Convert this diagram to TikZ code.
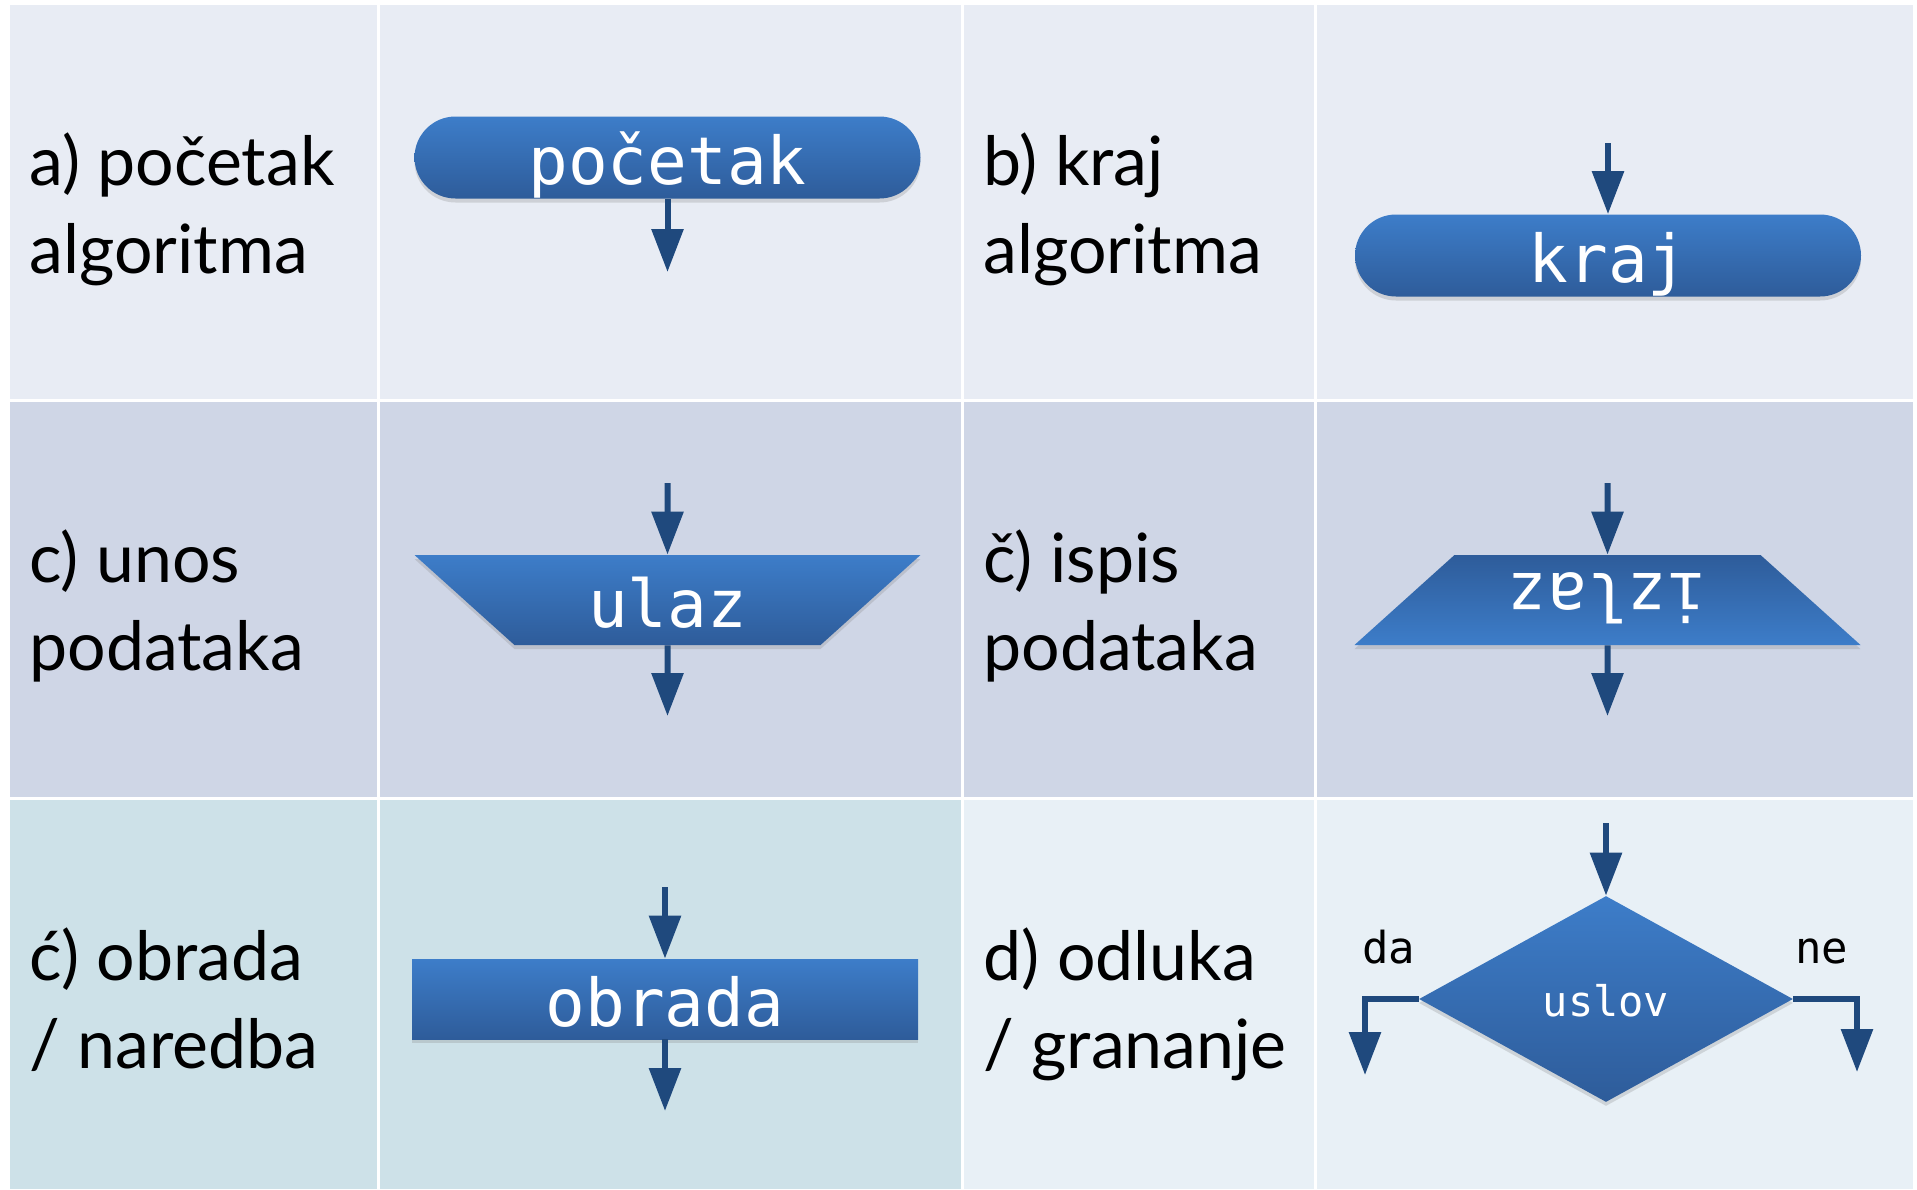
\documentclass[tikz,border=0pt]{standalone}
\usepackage{fontspec}
\usepackage{graphicx}
\setmainfont{Lato}
\newfontfamily\boxfont{DejaVu Sans Mono}
\usetikzlibrary{shapes.geometric, shapes.misc, arrows.meta, shadows}

\definecolor{cellA}{HTML}{E8ECF4}
\definecolor{cellB}{HTML}{CFD6E6}
\definecolor{cellC}{HTML}{CDE1E8}
\definecolor{cellD}{HTML}{E8F0F6}
\definecolor{shapeTop}{HTML}{3D7DC9}
\definecolor{shapeBot}{HTML}{2E5C9A}
\definecolor{arrowBlue}{HTML}{1F497D}

\tikzset{
  symbol/.style={inner sep=0pt, text=white, font=\boxfont\fontsize{33}{33}\selectfont,
    text height=27pt, text depth=0pt, top color=shapeTop, bottom color=shapeBot,
    drop shadow={shadow xshift=0pt, shadow yshift=-2pt, opacity=0.25}},
  pill/.style={symbol, rounded rectangle, minimum width=253pt, minimum height=41pt},
  trap/.style={symbol, trapezium, trapezium left angle=42, trapezium right angle=42,
    trapezium stretches body=true, inner ysep=9pt, minimum width=253pt, minimum height=45pt},
  decision/.style={symbol, diamond, minimum width=187pt, minimum height=103pt,
    font=\boxfont\fontsize{21}{21}\selectfont, text height=17pt},
  rowtext/.style={anchor=base west, align=left, inner sep=0pt, font=\fontsize{34}{44}\selectfont},
  branchtext/.style={anchor=base west, inner sep=0pt, font=\boxfont\fontsize{22}{22}\selectfont},
  flow/.style={draw=arrowBlue, line width=3pt, -{Triangle[width=15.5pt, length=21.5pt]}}
}

\begin{document}
\begin{tikzpicture}[x=0.5pt, y=-0.5pt]
    % draw background and cells
    \fill[white] (0, 0) rectangle (1917, 1189);
    \useasboundingbox (0, 0) rectangle (1917, 1189);

    \fill[cellA] (10, 5) rectangle (377, 399);
    \fill[cellA] (380, 5) rectangle (961, 399);
    \fill[cellA] (964, 5) rectangle (1314, 399);
    \fill[cellA] (1317, 5) rectangle (1913, 399);

    \fill[cellB] (10, 402) rectangle (377, 797);
    \fill[cellB] (380, 402) rectangle (961, 797);
    \fill[cellB] (964, 402) rectangle (1314, 797);
    \fill[cellB] (1317, 402) rectangle (1913, 797);

    \fill[cellC] (10, 800) rectangle (377, 1189);
    \fill[cellC] (380, 800) rectangle (961, 1189);
    \fill[cellD] (964, 800) rectangle (1314, 1189);
    \fill[cellD] (1317, 800) rectangle (1913, 1189);

    % draw descriptions (anchored at the second line)
    \node[rowtext] (startText) at (29, 273) {a) početak\\algoritma};
    \node[rowtext] (stopText) at (983, 273) {b) kraj\\algoritma};
    \node[rowtext] (inputText) at (29, 670) {c) unos\\podataka};
    \node[rowtext] (outputText) at (983, 670) {č) ispis\\podataka};
    \node[rowtext] (workText) at (29, 1068) {ć) obrada\\/ naredba};
    \node[rowtext] (condText) at (983, 1068) {d) odluka\\/ grananje};

    % draw symbols
    \node[pill] (start) at (667.5, 157.5) {početak};
    \node[pill] (stop) at (1608, 255.5) {kraj};
    \node[trap, shape border rotate=180] (input) at (667.5, 600) {ulaz};
    \node[trap, top color=shapeBot, bottom color=shapeTop, text height=0pt, text depth=27pt]
        (output) at (1607.5, 600) {\rotatebox{180}{izlaz}};
    \node[symbol, rectangle, minimum width=253pt, minimum height=40pt] (work) at (665, 999) {obrada};
    \node[decision] (cond) at (1606, 999) {uslov};

    \node[branchtext] (yesText) at (1362, 963) {da};
    \node[branchtext] (noText) at (1795, 963) {ne};

    % draw arrows
    \coordinate (startOut) at (667.5, 272);
    \coordinate (stopIn) at (1608, 143);
    \coordinate (inputIn) at (667.5, 483);
    \coordinate (inputOut) at (667.5, 716);
    \coordinate (outputIn) at (1607.5, 483);
    \coordinate (outputOut) at (1607.5, 716);
    \coordinate (workIn) at (665, 887);
    \coordinate (workOut) at (665, 1111);
    \coordinate (condIn) at (1606, 823);
    \coordinate (yesOut) at (1365, 1075);
    \coordinate (noOut) at (1857, 1072);

    \draw[flow] (start.south) -- (startOut);
    \draw[flow] (stopIn) -- (stop.north);
    \draw[flow] (inputIn) -- (input.north);
    \draw[flow] (input.south) -- (inputOut);
    \draw[flow] (outputIn) -- (output.north);
    \draw[flow] (output.south) -- (outputOut);
    \draw[flow] (workIn) -- (work.north);
    \draw[flow] (work.south) -- (workOut);
    \draw[flow] (condIn) -- (cond.north);
    \draw[flow] (cond.west) -| (yesOut);
    \draw[flow] (cond.east) -| (noOut);
\end{tikzpicture}
\end{document}
